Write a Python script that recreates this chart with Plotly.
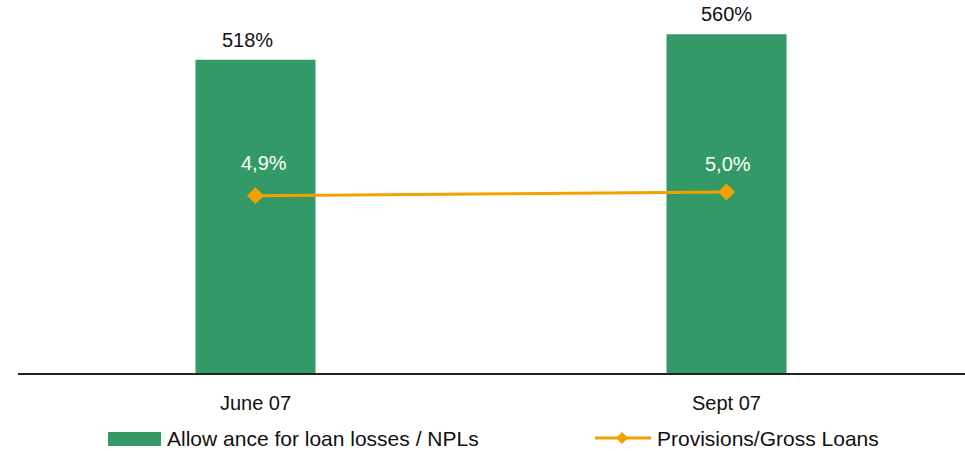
import plotly.graph_objects as go

# Data
periods = ["June 07", "Sept 07"]
allowance_npl = [518, 560]          # Allowance for loan losses / NPLs (%)
provisions_gross = [4.9, 5.0]       # Provisions / Gross Loans (%)
allowance_labels = ["518%", "560%"]
provisions_labels = ["4,9%", "5,0%"]
bar_name = "Allow ance for loan losses / NPLs"
line_name = "Provisions/Gross Loans"

GREEN = "#339966"
ORANGE = "#F2A100"
FONT = "Liberation Sans, Arial, sans-serif"

W, H = 965, 451
ML, MR, MT, MB = 20, 3, 10, 77
PW, PH = W - ML - MR, H - MT - MB


def px_x(px):
    return (px - ML) / PW


def px_y(py):
    return (H - MB - py) / PH


fig = go.Figure()

fig.add_trace(go.Bar(
    x=periods, y=allowance_npl, name=bar_name,
    marker=dict(color=GREEN, line=dict(width=0)),
    width=0.2548, showlegend=False, yaxis="y",
))

fig.add_trace(go.Scatter(
    x=periods, y=provisions_gross, name=line_name, mode="lines+markers",
    line=dict(color=ORANGE, width=3),
    marker=dict(symbol="diamond", size=13, color=ORANGE),
    showlegend=False, yaxis="y2",
))

annotations = []
bar_xshift = [-8, 0]
for p, v, t, dx in zip(periods, allowance_npl, allowance_labels, bar_xshift):
    annotations.append(dict(
        x=p, y=v, xref="x", yref="y", text=t, showarrow=False,
        yanchor="middle", yshift=20, xshift=dx,
        font=dict(size=20, color="#111111", family=FONT),
    ))
line_xshift = [8, 1]
line_yshift = [33, 28]
for p, v, t, dx, dy in zip(periods, provisions_gross, provisions_labels,
                           line_xshift, line_yshift):
    annotations.append(dict(
        x=p, y=v, xref="x", yref="y2", text=t, showarrow=False,
        yanchor="middle", yshift=dy, xshift=dx,
        font=dict(size=20, color="#ffffff", family=FONT),
    ))

# Legend entries
annotations.append(dict(
    x=px_x(165), y=px_y(438.5), xref="paper", yref="paper", text=bar_name,
    showarrow=False, xanchor="left", yanchor="middle",
    font=dict(size=21, color="#111111", family=FONT),
))
annotations.append(dict(
    x=px_x(655), y=px_y(438.5), xref="paper", yref="paper", text=line_name,
    showarrow=False, xanchor="left", yanchor="middle",
    font=dict(size=21, color="#111111", family=FONT),
))

shapes = [
    # baseline
    dict(type="line", xref="paper", yref="paper",
         x0=px_x(18), x1=px_x(965), y0=0, y1=0,
         line=dict(color="#222222", width=2)),
    # legend swatch for bars
    dict(type="rect", xref="paper", yref="paper",
         x0=px_x(108), x1=px_x(161), y0=px_y(432), y1=px_y(446),
         fillcolor=GREEN, line=dict(width=0)),
    # legend line sample
    dict(type="line", xref="paper", yref="paper",
         x0=px_x(595), x1=px_x(651), y0=px_y(438), y1=px_y(438),
         line=dict(color=ORANGE, width=3)),
]
cx, cy, r = 622, 438, 6
shapes.append(dict(
    type="path", xref="paper", yref="paper",
    path=f"M {px_x(cx - r)} {px_y(cy)} L {px_x(cx)} {px_y(cy - r)} "
         f"L {px_x(cx + r)} {px_y(cy)} L {px_x(cx)} {px_y(cy + r)} Z",
    fillcolor=ORANGE, line=dict(width=0),
))

fig.update_layout(
    width=W, height=H,
    margin=dict(l=ML, r=MR, t=MT, b=MB),
    paper_bgcolor="white", plot_bgcolor="white",
    font=dict(family=FONT, size=20, color="#111111"),
    showlegend=False,
    xaxis=dict(
        type="category", range=[-0.5, 1.5], showgrid=False, zeroline=False,
        showline=False, ticks="", ticklabelstandoff=15,
        tickfont=dict(size=20, color="#111111", family=FONT),
    ),
    yaxis=dict(range=[0, 600], visible=False, showgrid=False, zeroline=False),
    yaxis2=dict(range=[0, 10], overlaying="y", visible=False,
                showgrid=False, zeroline=False),
    annotations=annotations,
    shapes=shapes,
)

fig.write_html("out.html")
